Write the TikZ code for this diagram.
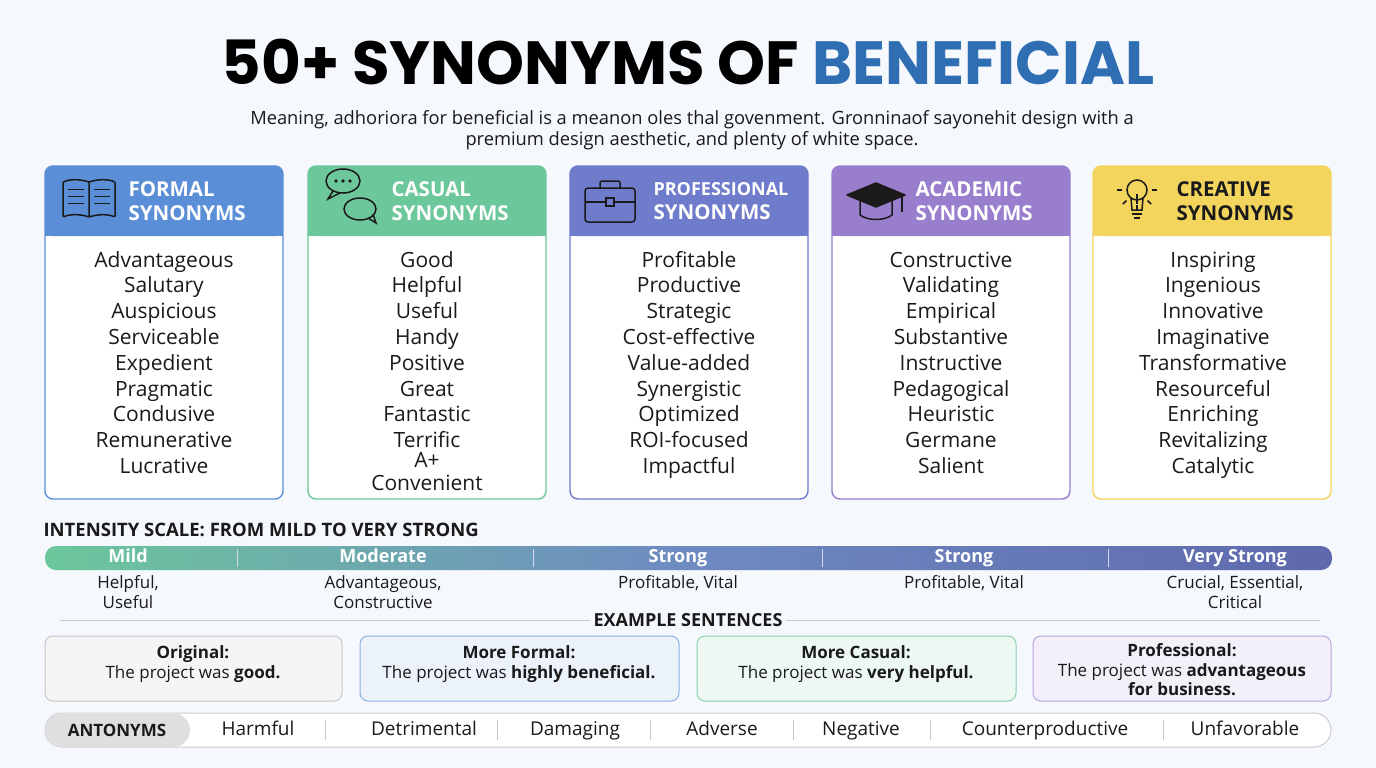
\documentclass[tikz,border=0pt]{standalone}
\usepackage{fontspec}
\setmainfont{Open Sans}
\newfontfamily\titlefont{Poppins}
\usetikzlibrary{calc}
\definecolor{bg}{HTML}{F5F8FC}
\definecolor{cA}{HTML}{5A8FD8}
\definecolor{cB}{HTML}{6CC79B}
\definecolor{cC}{HTML}{6F7BCB}
\definecolor{cD}{HTML}{9A7ECE}
\definecolor{cE}{HTML}{F3D55E}
\definecolor{tblue}{HTML}{2F6EB2}
\definecolor{ink}{HTML}{1A1A1A}
\tikzset{
 fs/.style={font=\fontsize{#1pt}{\dimexpr#1pt*23/20\relax}\selectfont},
 fb/.style={font=\bfseries\fontsize{#1pt}{\dimexpr#1pt*23/20\relax}\selectfont},
 card/.style={draw=#1, line width=1.4pt, fill=white, rounded corners=8pt},
 word/.style={fs=21, text=ink, align=center, text height=15pt, text depth=5pt, inner sep=0pt},
 head/.style={fb=20.5, align=left, anchor=west},
 ex/.style={rounded corners=8pt, line width=1pt},
 lab/.style={fs=17, text=ink, align=center},
}
\begin{document}
\begin{tikzpicture}[x=1pt,y=-1pt]
\fill[bg] (0,0) rectangle (1376,768);
\useasboundingbox (0,0) rectangle (1376,768);
\node[font=\titlefont\bfseries\fontsize{61pt}{66pt}\selectfont] (title) at (688,62) {50+ SYNONYMS OF \textcolor{tblue}{BENEFICIAL}};
\node[fs=18.3, align=center, text=ink] (sub) at (692,130) {Meaning, adhoriora for beneficial is a meanon oles thal govenment. Gronninaof sayonehit design with a\\premium design aesthetic, and plenty of white space.};
% cards
\foreach \x/\c/\n/\t/\tc in {45/cA/a/FORMAL\\SYNONYMS/white, 308/cB/b/CASUAL\\SYNONYMS/white, 570/cC/c/{\fontsize{18pt}{21pt}\selectfont PROFESSIONAL}\\SYNONYMS/white, 832/cD/d/ACADEMIC\\SYNONYMS/white, 1093/cE/e/CREATIVE\\SYNONYMS/ink}{
 \draw[card=\c] (\x,166) rectangle ++(238,333);
 \fill[\c, rounded corners=8pt] (\x,166) rectangle ++(238,70);
 \fill[\c] (\x,220) rectangle ++(238,16);
 \node[head, text=\tc] (h\n) at (\x+80,201) {\t};
}
% icons
\begin{scope}[line width=1.5pt, draw=ink]
 \draw[rounded corners=1pt] (89,182) -- (89,217) .. controls (80,214) and (70,214) .. (63,217) -- (63,182) .. controls (70,179) and (80,179) .. (89,182);
 \draw[rounded corners=1pt] (89,182) .. controls (98,179) and (108,179) .. (115,182) -- (115,217) .. controls (108,214) and (98,214) .. (89,217);
 \foreach \yy in {189,196,203} {\draw[line width=1pt] (68,\yy) -- (84,\yy); \draw[line width=1pt] (94,\yy) -- (110,\yy);}
 \draw (343,181) ellipse (17 and 12);
 \draw (333,191) -- (328,199) -- (340,193);
 \draw (360,209) ellipse (16 and 11);
 \draw (368,218) -- (376,223) -- (373,214);
 \foreach \xx in {336,343,350} \fill[ink] (\xx,181) circle (1.8);
 \draw[rounded corners=3pt] (585,188) rectangle (635,222);
 \draw[rounded corners=2pt] (600,188) -- (600,181) -- (620,181) -- (620,188);
 \draw (585,202) -- (606,202) (614,202) -- (635,202);
 \draw (606,198) rectangle (614,206);
 \draw[line join=round, fill=ink] (847,195) -- (876,183) -- (905,195) -- (876,207) -- cycle;
 \draw (860,201) -- (860,215) .. controls (868,221) and (884,221) .. (892,215) -- (892,201);
 \draw (902,196) -- (902,212);
 \draw (1137,190) circle (10);
 \draw (1131,198) -- (1132,210) -- (1142,210) -- (1143,198);
 \draw (1132,214) -- (1142,214) (1134,218) -- (1140,218);
 \draw (1137,194) -- (1137,204);
 \foreach \a in {90,135,45,180,0} \draw ($(1137,190)+(\a:15)$) -- ($(1137,190)+(\a:20)$);
\end{scope}
% words
\foreach \x/\lst in {164/{Advantageous,Salutary,Auspicious,Serviceable,Expedient,Pragmatic,Condusive,Remunerative,Lucrative},
 427/{Good,Helpful,Useful,Handy,Positive,Great,Fantastic,Terrific},
 689/{Profitable,Productive,Strategic,Cost-effective,Value-added,Synergistic,Optimized,ROI-focused,Impactful},
 951/{Constructive,Validating,Empirical,Substantive,Instructive,Pedagogical,Heuristic,Germane,Salient},
 1213/{Inspiring,Ingenious,Innovative,Imaginative,Transformative,Resourceful,Enriching,Revitalizing,Catalytic}}{
 \foreach \w [count=\i from 0] in \lst { \node[word] at (\x,262+25.8*\i) {\w}; }
}
\node[word] (aplus) at (427,462) {A+};
\node[word] (conv) at (427,485) {Convenient};
% intensity
\node[fb=18.5, anchor=west, text=ink] (intl) at (40,530) {INTENSITY SCALE: FROM MILD TO VERY STRONG};
\shade[left color=cB, right color=cC!85!black, middle color=cC!80!cB, rounded corners=11pt] (45,546) rectangle (1332,570);
\foreach \xx in {237,533,822,1108} \draw[white!70!cC, line width=1pt] (\xx,549) -- (\xx,567);
\foreach \xx/\t in {128/Mild,383/Moderate,678/Strong,964/Strong,1235/Very Strong}
 \node[fb=18, text=white, text height=13pt, text depth=4pt] at (\xx,558) {\t};
\node[lab] at (128,592) {Helpful,\\Useful};
\node[lab] at (383,592) {Advantageous,\\Constructive};
\node[lab] at (678,583) {Profitable, Vital};
\node[lab] at (964,583) {Profitable, Vital};
\node[lab] at (1235,592) {Crucial, Essential,\\Critical};
% example sentences
\node[fb=18, text=ink] (exs) at (688,620) {EXAMPLE SENTENCES};
\draw[gray!40, line width=0.8pt] (60,620) -- (exs.west) (exs.east) -- (1320,620);
\draw[ex, draw=gray!45, fill=gray!8] (45,636) rectangle (342,701);
\draw[ex, draw=cA!70, fill=cA!12] (360,636) rectangle (679,701);
\draw[ex, draw=cB!80, fill=cB!12] (697,636) rectangle (1016,701);
\draw[ex, draw=cD!70, fill=cD!12] (1033,636) rectangle (1331,701);
\node[lab] at (193,664) {\textbf{Original:}\\The project was \textbf{good.}};
\node[lab] at (519,664) {\textbf{More Formal:}\\The project was \textbf{highly beneficial.}};
\node[lab] at (856,664) {\textbf{More Casual:}\\The project was \textbf{very helpful.}};
\node[lab] at (1182,670) {\textbf{Professional:}\\The project was \textbf{advantageous}\\\textbf{for business.}};
% antonyms
\draw[fill=white, draw=gray!40, line width=1pt, rounded corners=17pt] (45,713) rectangle (1331,747);
\fill[gray!25, rounded corners=17pt] (45,713) rectangle (190,747);
\node[fb=17, text=ink] (ant) at (117,730) {ANTONYMS};
\foreach \xx/\t in {258/Harmful,424/Detrimental,575/Damaging,722/Adverse,861/Negative,1045/Counterproductive,1245/Unfavorable}
 \node[fs=19, text=ink, text height=14pt, text depth=4pt] at (\xx,730) {\t};
\foreach \xx in {325,497,650,793,930,1163} \draw[gray!45, line width=0.8pt] (\xx,720) -- (\xx,740);
\end{tikzpicture}
\end{document}
